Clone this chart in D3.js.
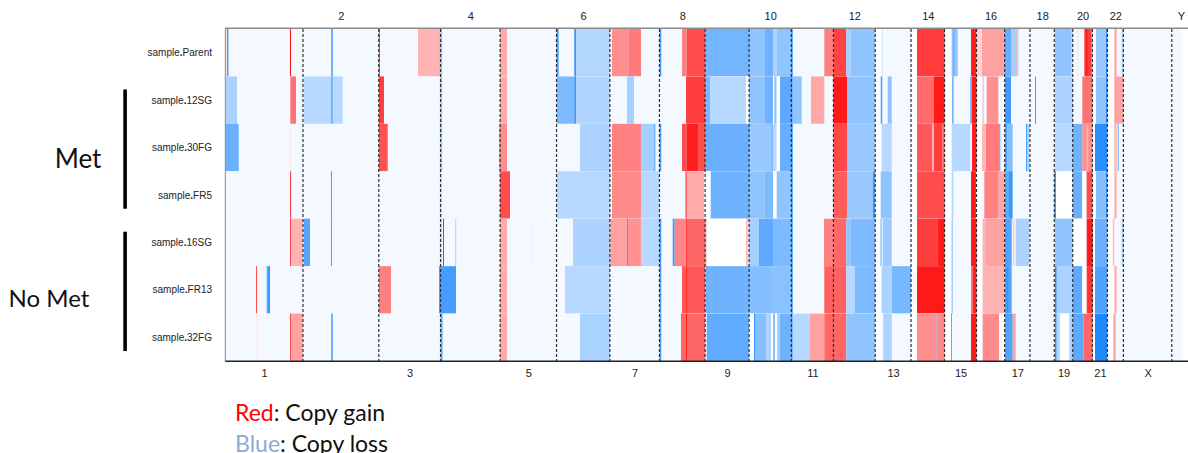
<!DOCTYPE html>
<html>
<head>
<meta charset="utf-8">
<script src="https://cdn.jsdelivr.net/npm/d3@7"></script>
<style>
  body { margin: 0; background: #ffffff; }
  svg { display: block; }
</style>
</head>
<body>
<svg id="chart" width="1188" height="453"></svg>
<script>
// Chromosomes (hg19 lengths, Mb)
const chromosomes = ["1","2","3","4","5","6","7","8","9","10","11","12","13","14","15","16","17","18","19","20","21","22","X","Y"];
const chromLengths = [249.25,243.2,198.02,191.15,180.92,171.12,159.14,146.36,141.21,135.53,135.01,133.85,115.17,107.35,102.53,90.35,81.2,78.08,59.13,63.03,48.13,51.3,155.27,59.37];

const samples = ["sample.Parent","sample.12SG","sample.30FG","sample.FR5","sample.16SG","sample.FR13","sample.32FG"];

// Genome span that carries probes, and stretches without data (Mb, cumulative)
const coveredSpan = [0, 3069];
const noDataGaps = [[2084.8,2102],[2199.9,2219],[2307.3,2330],[2409.8,2427],[2781.6,2790],[2829.7,2850]];
const neutralValue = -0.05;

// Copy-number segments per sample: [start Mb, end Mb, log-ratio]
const segParent = [
  [5,7.5,0.9],[7.5,10,-0.85],[207.5,210.5,1.0],[340,344.5,-0.9],[492.5,495.5,0.9],
  [618.2,689.7,0.3],[690.5,695.5,-0.5],[881.6,903.7,0.33],
  [1062.5,1069.5,-0.8],[1119.6,1125,-0.9],[1125,1233.7,-0.34],
  [1240.3,1294.9,0.44],[1294.9,1333.4,0.52],
  [1393,1398.7,-0.8],[1465.2,1480.3,0.5],[1480.3,1539.2,0.7],
  [1539.2,1680.4,-0.62],
  [1680.4,1729.1,-0.5],[1729.1,1757,-0.64],[1757,1768.9,-0.37],[1768.9,1815.7,-0.5],[1815.7,1820.2,-0.95],
  [1921.6,1950.9,0.5],[1950.9,1992,0.74],[1992,2006.3,-0.4],[2006.3,2084.8,-0.5],
  [2107,2110,-0.2],
  [2219,2307.3,0.77],
  [2330.3,2349.6,-0.5],[2335,2339,-0.68],[2392.3,2409.8,0.88],
  [2409.8,2427.5,0.18],[2427.5,2500.2,0.37],
  [2500.2,2520.5,-0.68],[2520.5,2535.6,-0.4],[2535.6,2538.8,0.5],[2538.8,2545,-0.3],
  [2661.7,2715.3,-0.5],[2715.3,2718.6,-0.32],
  [2733.5,2735.5,0.15],[2755.7,2779.4,0.76],[2760,2766,0.9],[2779.4,2781.6,0.35],
  [2793.2,2825.3,-0.45],[2825.3,2829.7,-0.92],
  [2851.9,2859.6,0.33],[2875.7,2881,-0.35]
];
const seg12SG = [
  [0,37.5,-0.38],[208.5,226.8,0.55],
  [251.5,340,-0.32],[340,344.5,-0.9],[344.5,376.6,-0.32],
  [492.5,509,0.76],[690.5,695.5,-0.5],[881.6,903.7,0.33],
  [1063.1,1119.6,-0.58],[1119.6,1125,-0.9],[1125,1233.7,-0.35],
  [1288.4,1310.9,-0.4],
  [1478,1539.2,0.76],
  [1539.2,1554.9,-0.6],[1554.9,1670.4,-0.32],[1670.4,1677.8,0],
  [1680.4,1729.1,-0.5],[1729.1,1757,-0.64],[1757,1761.2,0],[1761.2,1768.9,-0.5],[1768.9,1779.5,0],[1779.5,1815.7,-0.72],[1815.7,1820.2,-0.95],
  [1820.2,1849.1,-0.5],[1878.9,1921.6,0.34],
  [1950.9,1994.4,0.9],[1994.4,2084.8,-0.5],
  [2102.6,2107.7,-0.78],[2125.1,2137.9,-0.5],
  [2219,2273.5,0.58],[2273.5,2307.3,0.9],
  [2332,2336,-0.8],[2390,2395,-0.75],[2395.5,2409.8,0.9],
  [2429.7,2433,0.3],[2442.6,2479.8,0.43],
  [2501.3,2520.5,-0.85],[2597.6,2600.8,-0.85],
  [2661.7,2718.6,-0.37],
  [2749.3,2781.6,0.55],
  [2793.2,2825.3,-0.5],[2825.3,2830,-0.9],
  [2851.9,2881,0.36]
];
const seg30FG = [
  [0,43,-0.66],[208.5,210.5,0.1],
  [492.5,521,0.68],[690.5,695.5,-0.5],[879,903.7,0.44],
  [1137.8,1233.7,-0.37],
  [1240.3,1333.4,0.5],[1333.4,1376.2,-0.4],[1376.2,1379.4,-0.85],
  [1393,1398.7,-0.8],[1465.2,1480.3,0.7],[1480.3,1516.5,0.88],[1516.5,1539.2,0.7],
  [1539.2,1680.4,-0.66],
  [1680.4,1750.6,-0.45],[1750.6,1757,-0.54],[1757,1768.9,-0.32],[1768.9,1779.5,0],[1779.5,1815.7,-0.68],[1815.7,1820.2,-0.95],
  [1950.9,1994.4,0.72],[1994.4,2084.8,-0.45],
  [2105.8,2137.9,-0.32],
  [2219,2267.1,0.66],[2267.1,2273.5,0.3],[2273.5,2300,0.76],[2300,2307.3,0.6],
  [2330.3,2390,-0.32],[2395.5,2409.8,0.9],
  [2427.5,2440.3,0.28],[2440.3,2483,0.52],[2483,2486.2,-0.8],
  [2501.3,2509,-0.8],[2509,2526,-0.55],[2568.7,2579.3,-0.37],[2568.7,2571.9,-0.8],
  [2661.7,2718.6,-0.32],
  [2718.6,2749.3,-0.64],[2749.3,2781.6,0.44],[2763,2768,0.3],
  [2790,2829.7,-0.95],
  [2851.9,2859.6,0.3],[2862.8,2866.1,-0.7]
];
const segFR5 = [
  [208.5,211,1.0],[339,342,-0.85],
  [690.5,694.5,-0.3],[881.6,913.3,0.7],
  [1063.1,1233.7,-0.32],
  [1240.3,1333.4,0.46],[1333.4,1392.8,-0.32],
  [1476.5,1480.3,0.9],[1480.3,1535.8,0.33],[1535.8,1557.2,0],
  [1557.2,1680.4,-0.64],
  [1680.4,1729.1,-0.5],[1729.1,1757,-0.58],[1757,1768.9,0],[1768.9,1815.7,-0.5],[1815.7,1820.2,-0.95],
  [1950.9,1994.4,0.64],[1994.4,2076.9,-0.45],[2076.9,2084.8,-0.85],
  [2102.6,2137.9,-0.5],
  [2219,2307.3,0.7],
  [2330.3,2335.5,-0.35],[2392.3,2408,0.9],
  [2435,2481,0.5],[2481,2500.2,0.35],
  [2501.3,2526,-0.72],[2515,2524,-0.88],
  [2659.5,2665,-0.9],[2665,2718.6,0],
  [2718.6,2749.3,-0.66],[2749.3,2763,0],[2763,2781.6,0.7],
  [2793.2,2825.3,-0.54],[2825.3,2829.7,-0.9],
  [2851.9,2859.6,0.3]
];
const seg16SG = [
  [208.5,211,1.0],[211,248.3,0.3],[251.5,271.7,-0.75],[339,342,-0.85],
  [690.5,694,-0.35],[698.4,701.6,0.85],[736.9,741,-0.3],
  [881.6,903.7,0.33],[980.7,983,-0.1],
  [1115.4,1233.7,-0.37],
  [1235,1288.4,0.37],[1288.4,1291.7,-0.85],[1291.7,1333.4,0.43],[1333.4,1392.8,-0.32],
  [1393,1398.7,-0.8],[1435.3,1441.7,-0.85],[1441.7,1478,0.48],[1478,1480.3,1.0],[1480.3,1539.2,0.6],[1539.2,1544.3,0.3],
  [1544.3,1670.4,0],[1670.4,1677.8,0.25],
  [1680.4,1712.1,-0.4],[1712.1,1757,-0.72],[1757,1815.7,-0.58],[1815.7,1820.2,-0.95],
  [1920.6,1950.9,0.5],[1950.9,1992.2,0.6],[1992.2,2006.3,-0.5],[2006.3,2084.8,-0.58],
  [2102,2105,-0.7],[2109,2137.9,-0.45],
  [2219,2284,0.76],[2284,2307.3,0.9],
  [2330.3,2333,-0.7],[2392.3,2409.8,0.9],
  [2429.7,2440.3,0.3],[2440.3,2500.2,0.37],
  [2501.3,2522.8,-0.78],[2526,2531,0.2],[2535.6,2579.3,-0.37],
  [2661.7,2718.6,-0.5],
  [2718.6,2763.4,0],[2763.4,2782.6,0.9],
  [2790,2829.7,-0.66],
  [2846.8,2851.9,0.25],[2875.7,2881,-0.35]
];
const segFR13 = [
  [98.5,101.7,0.7],[131.5,134.7,-0.4],[134.7,143.4,-0.88],
  [492.5,531.6,0.5],
  [685.5,688.8,0.6],[688.8,740.1,-0.82],
  [881.6,903.7,0.33],
  [1089.7,1233.7,-0.32],
  [1393,1398.7,-0.8],[1465.2,1539.2,0.66],[1478,1480,0.85],
  [1541,1680.4,-0.64],
  [1680.4,1750.6,-0.54],[1750.6,1815.7,-0.52],[1815.7,1820.2,-0.95],
  [1921.6,1992.2,0.62],[1992.2,2020.1,-0.32],[2020.1,2084.8,-0.58],
  [2105.8,2137.9,-0.37],[2137.9,2199.9,-0.6],
  [2219,2307.3,0.9],
  [2330.3,2333,-0.7],[2392.3,2397.7,0.6],[2397.7,2409.8,0.88],
  [2429.7,2500.2,0.3],
  [2501.3,2522.8,-0.75],[2506,2512,-0.9],
  [2661.7,2667.2,-0.95],[2667.2,2718.6,-0.37],
  [2718.6,2749.3,-0.72],[2749.3,2763.4,0],[2763.4,2782.6,0.8],
  [2790,2829.7,-0.78],
  [2851.9,2859.6,0.3]
];
const seg32FG = [
  [100,102,0.12],[208.5,211,1.0],[211,248.3,0.37],[340,344.5,-0.9],
  [690.5,697,-0.72],
  [881.6,903.7,0.33],
  [1137.8,1233.7,-0.38],
  [1393,1398.7,-0.8],[1461.9,1539.2,0.6],[1478,1480.3,0.95],
  [1544.3,1680.4,-0.7],
  [1680.4,1696.1,0],[1696.1,1699.3,-0.9],[1699.3,1734.6,-0.54],[1734.6,1750.6,-0.37],[1750.6,1757,0],
  [1757,1764,-0.54],[1764,1770,0],[1770,1779.5,-0.4],[1779.5,1815.7,-0.64],[1815.7,1820.2,-0.95],
  [1820.2,1875.7,-0.32],[1875.7,1921.6,0.37],[1921.6,1992.2,0.6],[1992.2,2084.8,-0.5],
  [2110.9,2137.9,-0.37],
  [2219,2282.2,0.44],[2282.2,2285.4,-0.75],[2285.4,2307.3,0.46],
  [2328,2331,-0.75],[2392.3,2409.8,0.9],
  [2429.7,2483,0.45],[2483,2500.2,0],
  [2501.3,2526,-0.78],[2526,2535.6,0.37],
  [2661.7,2667.2,-0.92],[2667.2,2677.8,-0.32],[2677.8,2707.6,0],[2707.6,2718.6,-0.37],
  [2718.6,2752.5,-0.72],[2752.5,2782.6,0.6],
  [2790,2829.7,-1.0],
  [2848.7,2856.4,0.35]
];
const sampleSegments = [segParent, seg12SG, seg30FG, segFR5, seg16SG, segFR13, seg32FG];

// Sample groups (first and last member)
const groupNames = ["Met", "No Met"];
const groupRanges = [["sample.12SG","sample.FR5"],["sample.16SG","sample.32FG"]];

const legendItems = [["Red", ": Copy gain"], ["Blue", ": Copy loss"]];

// ---- layout ----
const svg = d3.select("#chart");
const plotLeft = 225.3, plotTop = 29, plotBottom = 361;
const mbPerPx = 3.208;

const chromStarts = d3.cumsum([0].concat(chromLengths.slice(0, -1)));
const genomeTotal = d3.sum(chromLengths);
const x = d3.scaleLinear().domain([0, genomeTotal]).range([plotLeft, plotLeft + genomeTotal / mbPerPx]);
const y = d3.scaleBand().domain(samples).range([plotTop, plotBottom]);
const color = d3.scaleLinear().domain([-1, 0, 1]).range(["#1e88ff", "#ffffff", "#ff0000"]).clamp(true);

const heat = svg.append("g");

samples.forEach((s, i) => {
  const row = heat.append("g").attr("transform", `translate(0,${y(s)})`);
  const h = y.bandwidth();
  // neutral background over the covered genome
  row.append("rect")
    .attr("x", x(coveredSpan[0])).attr("width", x(coveredSpan[1]) - x(coveredSpan[0]))
    .attr("y", 0).attr("height", h).attr("fill", color(neutralValue));
  row.selectAll("rect.gap").data(noDataGaps).join("rect").attr("class", "gap")
    .attr("x", d => x(d[0])).attr("width", d => x(d[1]) - x(d[0]))
    .attr("y", 0).attr("height", h).attr("fill", "#ffffff");
  row.selectAll("rect.seg").data(sampleSegments[i]).join("rect").attr("class", "seg")
    .attr("x", d => x(d[0])).attr("width", d => Math.max(0.8, x(d[1]) - x(d[0])))
    .attr("y", 0).attr("height", h).attr("fill", d => color(d[2]));
});

// chromosome boundaries
const boundaries = chromStarts.slice(1);
svg.append("g").selectAll("line").data(boundaries).join("line")
  .attr("x1", d => x(d)).attr("x2", d => x(d))
  .attr("y1", plotTop).attr("y2", plotBottom)
  .attr("stroke", "#2e2e2e").attr("stroke-width", 1.2).attr("stroke-dasharray", "3,2");

// frame
svg.append("line").attr("x1", plotLeft).attr("x2", 1188).attr("y1", 28.3).attr("y2", 28.3)
  .attr("stroke", "#8a8a8a").attr("stroke-width", 1.5);
svg.append("line").attr("x1", plotLeft).attr("x2", plotLeft).attr("y1", 28).attr("y2", 361.5)
  .attr("stroke", "#8a8a8a").attr("stroke-width", 1);
svg.append("line").attr("x1", plotLeft).attr("x2", 1188).attr("y1", 361.3).attr("y2", 361.3)
  .attr("stroke", "#222222").attr("stroke-width", 1.5);

// chromosome labels: odd below, even above
const centers = chromosomes.map((c, i) => chromStarts[i] + chromLengths[i] / 2);
const nameAt = new Map(centers.map((c, i) => [c, chromosomes[i]]));
const axisFont = (g) => g.selectAll("text").attr("font-family", "Liberation Sans, Arial, sans-serif")
  .attr("font-size", 11).attr("fill", "#222");

const bottomAxis = d3.axisBottom(x).tickValues(centers.filter((c, i) => i % 2 === 0))
  .tickFormat(d => nameAt.get(d)).tickSize(0).tickPadding(8);
svg.append("g").attr("transform", `translate(0,${plotBottom})`).call(bottomAxis)
  .call(g => g.select(".domain").remove()).call(axisFont);

const topAxis = d3.axisTop(x).tickValues(centers.filter((c, i) => i % 2 === 1))
  .tickFormat(d => nameAt.get(d)).tickSize(0).tickPadding(9);
svg.append("g").attr("transform", `translate(0,${plotTop})`).call(topAxis)
  .call(g => g.select(".domain").remove()).call(axisFont);

// sample labels
const labels = svg.append("g").attr("font-family", "Liberation Sans, Arial, sans-serif")
  .attr("font-size", 10).attr("fill", "#222").attr("text-anchor", "end");
samples.forEach(s => {
  const parts = s.split(".");
  const t = labels.append("text").attr("x", 212).attr("y", y(s) + y.bandwidth() / 2 + 3.5);
  t.append("tspan").text(parts[0]);
  t.append("tspan").attr("font-weight", "bold").text(".");
  t.append("tspan").text(parts[1]);
});

// group brackets
groupNames.forEach((g, i) => {
  const y0 = y(groupRanges[i][0]) + 13;
  const y1 = y(groupRanges[i][1]) + y.bandwidth() - 10;
  svg.append("rect").attr("x", 123.3).attr("y", y0).attr("width", 3.6).attr("height", y1 - y0).attr("fill", "#000");
});
svg.append("text").attr("x", 78).attr("y", 167.5).attr("text-anchor", "middle")
  .attr("font-family", "Lato, sans-serif").attr("font-size", 26).attr("fill", "#111").text(groupNames[0]);
svg.append("text").attr("x", 49).attr("y", 307.3).attr("text-anchor", "middle")
  .attr("font-family", "Lato, sans-serif").attr("font-size", 24).attr("fill", "#111").text(groupNames[1]);

// legend
const legendColors = ["#ff0000", "#8eaadb"];
legendItems.forEach((item, i) => {
  const t = svg.append("text").attr("x", 235).attr("y", 420.5 + i * 31.5)
    .attr("font-family", "Lato, sans-serif").attr("font-size", 23).attr("fill", "#111");
  t.append("tspan").attr("fill", legendColors[i]).text(item[0]);
  t.append("tspan").text(item[1]);
});
</script>
</body>
</html>
